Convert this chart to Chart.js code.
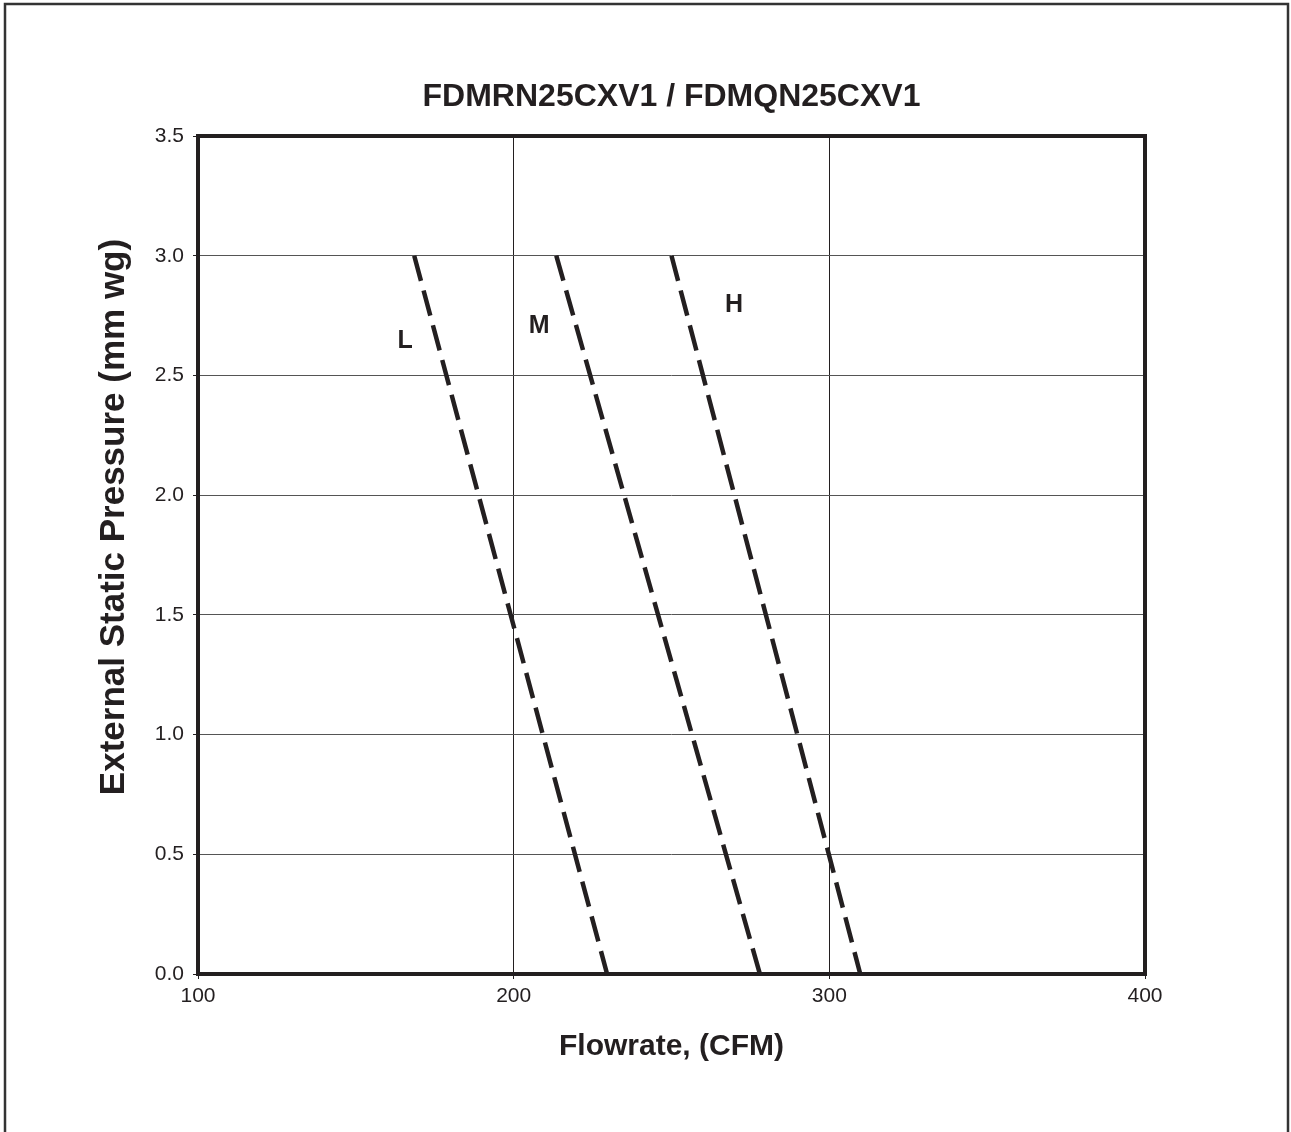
<!DOCTYPE html>
<html>
<head>
<meta charset="utf-8">
<title>FDMRN25CXV1 / FDMQN25CXV1</title>
<script src="https://cdn.jsdelivr.net/npm/chart.js@4.4.1/dist/chart.umd.min.js"></script>
<style>
    html, body { margin: 0; padding: 0; background: #ffffff; }
    #fan-chart { display: block; }
</style>
</head>
<body>
<canvas id="fan-chart" width="1291" height="1132"></canvas>
<script>
// Fan curves: flowrate (CFM) at each pressure (mm wg)
const pressurePoints = [3.0, 0.0];
const flowLow = [168.5, 229.6];
const flowMed = [213.5, 278.0];
const flowHigh = [250.0, 309.8];

// Curve labels and where they sit, in data units
const curveNames = ['L', 'M', 'H'];
const labelFlow = [165.6, 208.1, 269.8];
const labelPressure = [2.645, 2.705, 2.795];

// Axis ranges and titles
const xTicks = [100, 200, 300, 400];
const yTicks = [0.0, 0.5, 1.0, 1.5, 2.0, 2.5, 3.0, 3.5];
const chartTitle = 'FDMRN25CXV1 / FDMQN25CXV1';
const xTitle = 'Flowrate, (CFM)';
const yTitle = 'External Static Pressure (mm wg)';

const ink = '#231f20';
const fontFamily = "'Liberation Sans', Arial, Helvetica, sans-serif";

// Turn paired arrays into {x, y} points
const toPoints = (flows) => flows.map((f, i) => ({ x: f, y: pressurePoints[i] }));

const curveStyle = {
    borderColor: ink,
    borderWidth: 4.5,
    borderDash: [26, 10],
    pointRadius: 0,
    fill: false,
    tension: 0,
};

// Outer page frame, plot box, titles and the L / M / H tags
const framePlugin = {
    id: 'frame',
    beforeDraw(chart) {
        const ctx = chart.ctx;
        ctx.save();
        ctx.fillStyle = '#ffffff';
        ctx.fillRect(0, 0, chart.width, chart.height);
        ctx.strokeStyle = '#333333';
        ctx.lineWidth = 2.5;
        ctx.strokeRect(5, 4, 1283, 1300);
        ctx.restore();
    },
    afterDatasetsDraw(chart) {
        const ctx = chart.ctx;
        const area = chart.chartArea;
        const xs = chart.scales.x;
        const ys = chart.scales.y;
        ctx.save();
        ctx.strokeStyle = ink;
        ctx.lineWidth = 4;
        ctx.strokeRect(area.left, area.top, area.right - area.left, area.bottom - area.top);

        ctx.fillStyle = ink;
        ctx.textAlign = 'center';
        ctx.textBaseline = 'middle';

        // chart title, centred over the plot box
        ctx.font = 'bold 32px ' + fontFamily;
        ctx.fillText(chartTitle, (area.left + area.right) / 2, 97);

        // y axis title, sits a bit above the plot's middle as in the original
        ctx.save();
        ctx.translate(114, 517);
        ctx.rotate(-Math.PI / 2);
        ctx.font = 'bold 35px ' + fontFamily;
        ctx.fillText(yTitle, 0, 0);
        ctx.restore();

        ctx.font = 'bold 25px ' + fontFamily;
        curveNames.forEach((name, i) => {
            ctx.fillText(name, xs.getPixelForValue(labelFlow[i]), ys.getPixelForValue(labelPressure[i]));
        });
        ctx.restore();
    },
};

const ctx = document.getElementById('fan-chart').getContext('2d');
window.fanChart = new Chart(ctx, {
    type: 'line',
    data: {
        datasets: [
            { label: 'L', data: toPoints(flowLow), ...curveStyle },
            { label: 'M', data: toPoints(flowMed), ...curveStyle },
            { label: 'H', data: toPoints(flowHigh), ...curveStyle },
        ],
    },
    options: {
        responsive: false,
        animation: false,
        layout: {
            padding: { top: 136, left: 0, right: 146, bottom: 67 },
        },
        plugins: {
            legend: { display: false },
            tooltip: { enabled: false },
            title: { display: false },
        },
        scales: {
            x: {
                type: 'linear',
                position: 'bottom',
                min: xTicks[0],
                max: xTicks[xTicks.length - 1],
                afterBuildTicks: (scale) => {
                    scale.ticks = xTicks.map(v => ({ value: v }));
                },
                afterFit: (scale) => {
                    scale.height = 91;
                },
                ticks: {
                    color: ink,
                    font: { family: fontFamily, size: 21 },
                    padding: 5,
                    maxRotation: 0,
                },
                grid: {
                    color: ink,
                    lineWidth: 1,
                    tickLength: 5,
                    tickColor: ink,
                },
                border: { display: false },
                title: {
                    display: true,
                    text: xTitle,
                    color: ink,
                    font: { family: fontFamily, size: 30, weight: 'bold' },
                    padding: 0,
                },
            },
            y: {
                type: 'linear',
                min: yTicks[0],
                max: yTicks[yTicks.length - 1],
                afterBuildTicks: (scale) => {
                    scale.ticks = yTicks.map(v => ({ value: v }));
                },
                afterFit: (scale) => {
                    scale.width = 198;
                },
                ticks: {
                    color: ink,
                    font: { family: fontFamily, size: 21 },
                    padding: 9,
                    callback: (v) => Number(v).toFixed(1),
                },
                grid: {
                    color: '#555555',
                    lineWidth: 1,
                    tickLength: 5,
                    tickColor: ink,
                },
                border: { display: false },
                title: { display: false },
            },
        },
    },
    plugins: [framePlugin],
});
</script>
</body>
</html>
